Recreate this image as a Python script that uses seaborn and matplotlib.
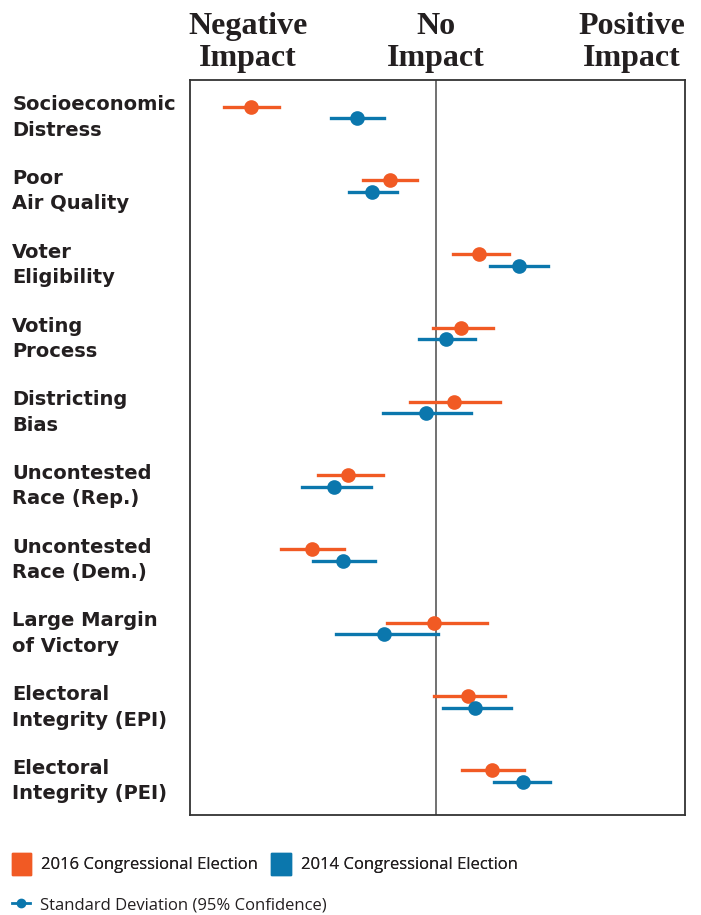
import numpy as np
import pandas as pd
import seaborn as sns
import matplotlib.pyplot as plt
from matplotlib.patches import Patch
from matplotlib.lines import Line2D

# factors (rows, top to bottom)
factors = ["Socioeconomic\nDistress", "Poor\nAir Quality", "Voter\nEligibility",
           "Voting\nProcess", "Districting\nBias", "Uncontested\nRace (Rep.)",
           "Uncontested\nRace (Dem.)", "Large Margin\nof Victory",
           "Electoral\nIntegrity (EPI)", "Electoral\nIntegrity (PEI)"]

# estimated effects and 95% interval
est_2016 = [-1.85, -0.46, 0.43, 0.25, 0.18, -0.88, -1.24, -0.02, 0.32, 0.56]
lo_2016 = [-2.12, -0.73, 0.17, -0.03, -0.26, -1.18, -1.55, -0.49, -0.02, 0.26]
hi_2016 = [-1.57, -0.19, 0.73, 0.57, 0.64, -0.53, -0.92, 0.51, 0.69, 0.88]
est_2014 = [-0.79, -0.64, 0.83, 0.10, -0.10, -1.02, -0.93, -0.52, 0.39, 0.87]
lo_2014 = [-1.05, -0.87, 0.54, -0.17, -0.53, -1.34, -1.23, -1.00, 0.07, 0.58]
hi_2014 = [-0.52, -0.39, 1.12, 0.39, 0.35, -0.65, -0.61, 0.02, 0.75, 1.14]

elections = ["2016 Congressional Election", "2014 Congressional Election"]
orange = "#F15A24"
blue = "#0B77AD"

# long table: low / estimate / high per factor, so median = estimate and
# the 100% interval = the confidence bar
recs = []
for name, est, lo, hi in [(elections[0], est_2016, lo_2016, hi_2016),
                          (elections[1], est_2014, lo_2014, hi_2014)]:
    for f, e, l, h in zip(factors, est, lo, hi):
        for v in (l, e, h):
            recs.append({"factor": f, "value": v, "election": name})
df = pd.DataFrame(recs)

fig = plt.figure(figsize=(7.01, 9.15), dpi=100)
ax = fig.add_axes([190 / 701, 100 / 915, 495 / 701, 735 / 915])

sns.pointplot(data=df, x="value", y="factor", hue="election", order=factors,
              hue_order=elections, palette=[orange, blue], estimator="median",
              errorbar=("pi", 100), dodge=0.156, linestyles="none", markers="o",
              markersize=8.5, err_kws={"linewidth": 2.4}, legend=False, ax=ax)

ax.axvline(0, color="#666666", lw=1.3, zorder=0)
ax.set_xlim(-2.457, 2.493)
ax.set_ylim(9.53, -0.44)
ax.set_xlabel("")
ax.set_ylabel("")
ax.set_xticks([])
for s in ax.spines.values():
    s.set_color("#333333")
    s.set_linewidth(1.3)

# row labels, left aligned at the figure edge
ax.tick_params(axis="y", length=0, pad=128)
ax.set_yticks(range(len(factors)))
ax.set_yticklabels(factors, ha="left", fontsize=14, fontweight="bold",
                   family="DejaVu Sans", color="#231f20", linespacing=1.42)

# header
hfont = dict(family="Liberation Serif", fontweight="bold", fontsize=23,
             color="#231f20", ha="center", va="center", linespacing=1.18,
             transform=ax.transAxes)
ax.text(0.117, 1.051, "Negative\nImpact", **hfont)
ax.text(0.497, 1.051, "No\nImpact", **hfont)
ax.text(0.893, 1.051, "Positive\nImpact", **hfont)

# legends
leg1 = fig.legend(handles=[Patch(color=orange, label=elections[0]),
                           Patch(color=blue, label=elections[1])],
                  loc="center left", bbox_to_anchor=(12 / 701, 0.0557), ncol=2,
                  frameon=False, borderpad=0, borderaxespad=0,
                  handlelength=1.15, handleheight=1.6, handletextpad=0.6,
                  columnspacing=0.8, prop={"family": "Open Sans", "size": 12})
fig.add_artist(leg1)
fig.legend(handles=[Line2D([], [], color=blue, marker="o", markersize=6, lw=2,
                           label="Standard Deviation (95% Confidence)")],
           loc="center left", bbox_to_anchor=(12 / 701, 0.0109), frameon=False,
           borderpad=0, borderaxespad=0, handlelength=1.1, handletextpad=0.6,
           prop={"family": "Open Sans", "size": 12})
for leg in fig.legends:
    for t in leg.get_texts():
        t.set_color("#231f20")

fig.savefig("out.png", dpi=100)
